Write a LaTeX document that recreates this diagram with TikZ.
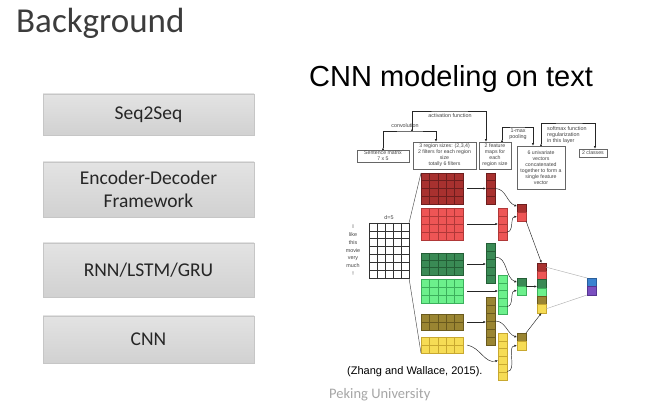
\documentclass[tikz,border=0pt]{standalone}
\usepackage{fontspec}
\setmainfont{Carlito}
\newfontfamily\arialf{Liberation Sans}
\usetikzlibrary{arrows.meta,calc}
\definecolor{dred}{HTML}{A8312F}\definecolor{dredl}{HTML}{6E1E1E}
\definecolor{lred}{HTML}{EE5555}\definecolor{lredl}{HTML}{B03838}
\definecolor{dgreen}{HTML}{3A8A55}\definecolor{dgreenl}{HTML}{245E36}
\definecolor{lgreen}{HTML}{6CF08C}\definecolor{lgreenl}{HTML}{3CB05C}
\definecolor{olive2}{HTML}{9A8532}\definecolor{olivel}{HTML}{6A5A1E}
\definecolor{yel}{HTML}{F6DC55}\definecolor{yell}{HTML}{C8A830}
\definecolor{blu}{HTML}{3B82D0}\definecolor{blul}{HTML}{2A5E9A}
\definecolor{pur}{HTML}{7A4FC0}\definecolor{purl}{HTML}{553590}
\definecolor{txt}{HTML}{262626}
\definecolor{lab}{HTML}{444444}
\newcommand\cblock[9]{%
  \node[draw=#9, fill=#8, line width=0.5pt, inner sep=0pt, outer sep=0pt,
        minimum width={(#4-#2)*1pt}, minimum height={(#5-#3)*1pt}]
        (#1) at ({(#2+#4)/2},{(#3+#5)/2}) {};
  \foreach \i in {0,...,#6}
    \draw[#9, line width=0.5pt] ($(#1.north west)!{\i/#6}!(#1.north east)$) -- ($(#1.south west)!{\i/#6}!(#1.south east)$);
  \foreach \j in {0,...,#7}
    \draw[#9, line width=0.5pt] ($(#1.north west)!{\j/#7}!(#1.south west)$) -- ($(#1.north east)!{\j/#7}!(#1.south east)$);
}
\tikzset{
  sidebox/.style={draw=gray!45, top color=gray!22, bottom color=gray!36, minimum width=211pt,
    inner sep=0pt, align=center, text=txt, font=\fontsize{19.5}{23}\selectfont},
  smallbox/.style={draw=gray!80!black, line width=0.4pt, fill=white, inner sep=0pt, align=center,
    text=lab, font=\arialf\fontsize{5.2}{5.9}\selectfont},
  smalllab/.style={text=lab, inner sep=0pt, align=center, font=\arialf\fontsize{5.4}{6.0}\selectfont},
  conn/.style={draw=gray!30!black, line width=0.45pt},
  arr/.style={conn, -{Latex[length=2.6pt,width=2.2pt]}},
  barr/.style={conn, {Latex[reversed,length=2.4pt,width=2pt]}-{Latex[length=2.6pt,width=2.2pt]}},
}
\begin{document}
\begin{tikzpicture}[x=1pt,y=-1pt]
\useasboundingbox (0,0) rectangle (649,419);
\fill[white] (0,0) rectangle (649,419);
% title
\node[anchor=base west, inner sep=0pt, text=txt!90, font=\fontsize{35}{40}\selectfont] (title) at (16,33) {Background};
% left boxes
\node[sidebox, minimum height=41pt] (b1) at (148.5,114.5) {Seq2Seq};
\node[sidebox, minimum height=55pt] (b2) at (148.5,189.5) {Encoder-Decoder\\Framework};
\node[sidebox, minimum height=54pt] (b3) at (148.5,270) {RNN/LSTM/GRU};
\node[sidebox, minimum height=47pt] (b4) at (148.5,339.5) {CNN};
% right title
\node[anchor=base west, inner sep=0pt, font=\arialf\fontsize{29}{33}\selectfont] (rtitle) at (309,87) {CNN modeling on text};
% top boxes
\node[smallbox, minimum width=52pt, minimum height=12pt] (sm) at (383,156) {Sentence matrix\\7 x 5};
\node[smallbox, minimum width=63pt, minimum height=27pt] (rs) at (444.5,155.5) {3 region sizes: (2,3,4)\\2 filters for each region\\size\\totally 6 filters};
\node[smallbox, minimum width=32pt, minimum height=27pt] (fmb) at (495,155.5) {2 feature\\maps for\\each\\region size};
\node[smallbox, minimum width=48pt, minimum height=43pt] (uv) at (541,167.5) {6 univariate\\vectors\\concatenated\\together to form a\\single feature\\vector};
\node[smallbox, minimum width=28pt, minimum height=8pt] (cl) at (593,153) {2 classes};
% top connectors
\coordinate (convtop) at (410,131);
\coordinate (actstart) at (412,131);
\coordinate (acttop) at (450,111);
\coordinate (pooltop) at (517,127);
\coordinate (softtop) at (570,123);
\draw[barr] (sm.north) |- (convtop) -| ([xshift=-8.5pt]rs.north);
\draw[barr] (actstart) |- (acttop) -| ([xshift=-9pt]fmb.north);
\draw[barr] ([xshift=7pt]fmb.north) |- (pooltop) -| ([xshift=-8pt]uv.north);
\draw[barr] (uv.north) |- (softtop) -| ([xshift=2pt]cl.north);
\node[smalllab] (lconv) at (405,126) {convolution};
\node[smalllab] (lact) at (450,116) {activation function};
\node[smalllab] (lpool) at (518,134) {1-max\\pooling};
\node[smalllab, align=left, anchor=north west] (lsoft) at (547,126) {softmax function\\regularization\\in this layer};
% sentence matrix
\cblock{s}{369}{223}{409}{278}{5}{7}{white}{gray!40!black}
\node[smalllab] (dlab) at (389,218) {d=5};
\foreach \w/\yy [count=\k] in {I/227,like/235,this/243,movie/251,very/259,much/266,!/274}
  \node[smalllab] (w\k) at (353,\yy) {\w};
% filters
\cblock{f1}{421}{173}{463}{204}{5}{4}{dred}{dredl}
\cblock{f2}{421}{208}{463}{240}{5}{4}{lred}{lredl}
\cblock{f3}{421}{253}{463}{275}{5}{3}{dgreen}{dgreenl}
\cblock{f4}{421}{279}{463}{303}{5}{3}{lgreen}{lgreenl}
\cblock{f5}{421}{314}{463}{330}{5}{2}{olive2}{olivel}
\cblock{f6}{421}{337}{463}{353}{5}{2}{yel}{yell}
\draw[conn, draw=gray!60!black] (s.north east) -- (f1.north west);
\draw[conn, draw=gray!60!black] (s.south east) -- (f6.south west);
% feature maps
\cblock{fm1}{486}{173}{495}{204}{1}{4}{dred}{dredl}
\cblock{fm2}{498}{208}{507}{240}{1}{4}{lred}{lredl}
\cblock{fm3}{486}{243}{495}{283}{1}{5}{dgreen}{dgreenl}
\cblock{fm4}{498}{275}{507}{314}{1}{5}{lgreen}{lgreenl}
\cblock{fm5}{486}{297}{495}{345}{1}{6}{olive2}{olivel}
\cblock{fm6}{498}{333}{507}{380}{1}{6}{yel}{yell}
\draw[arr] ($(f1.east)+(4pt,0)$) -- (fm1.west);
\draw[arr] ($(f2.east)+(4pt,0)$) -- (fm2.west);
\draw[arr] ($(f3.east)+(4pt,0)$) -- (f3.east -| fm3.west);
\draw[arr] ($(f4.east)+(4pt,0)$) -- (f4.east -| fm4.west);
\draw[arr] ($(f5.east)+(4pt,0)$) -- (f5.east -| fm5.west);
\draw[arr] ($(f6.east)+(4pt,0)$) to[out=-10,in=195] ([yshift=-4pt]fm6.west);
% pooled
\cblock{p1a}{517}{204}{526}{212.5}{1}{1}{dred}{dredl}
\cblock{p1b}{517}{212.5}{526}{221}{1}{1}{lred}{lredl}
\cblock{p2a}{517}{278}{526}{286.5}{1}{1}{dgreen}{dgreenl}
\cblock{p2b}{517}{286.5}{526}{295}{1}{1}{lgreen}{lgreenl}
\cblock{p3a}{517}{333}{526}{341.5}{1}{1}{olive2}{olivel}
\cblock{p3b}{517}{341.5}{526}{350}{1}{1}{yel}{yell}
\draw[arr] (fm1.east) to[out=0,in=160] ([yshift=2pt]p1a.west);
\draw[arr] ([yshift=-8pt]fm2.east) to[out=0,in=180] (p1b.west);
\draw[arr] ([yshift=6pt]fm3.east) to[out=0,in=160] (p2a.west);
\draw[arr] ([yshift=-12pt]fm4.east) to[out=0,in=180] (p2b.west);
\draw[arr] (fm5.east) to[out=0,in=160] (p3a.west);
\draw[arr] ([yshift=-15pt]fm6.east) to[out=0,in=180] (p3b.west);
% concatenated
\cblock{c1}{537}{263}{546}{271.3}{1}{1}{dred}{dredl}
\cblock{c2}{537}{271.3}{546}{279.7}{1}{1}{lred}{lredl}
\cblock{c3}{537}{279.7}{546}{288}{1}{1}{dgreen}{dgreenl}
\cblock{c4}{537}{288}{546}{296.3}{1}{1}{lgreen}{lgreenl}
\cblock{c5}{537}{296.3}{546}{304.7}{1}{1}{olive2}{olivel}
\cblock{c6}{537}{304.7}{546}{313}{1}{1}{yel}{yell}
\draw[arr] (p1b.south east) -- (c1.north);
\draw[arr] (p2a.south east) -- (p2a.south east -| c3.west);
\draw[arr] (p3a.north east) -- (c6.south);
% output
\cblock{o1}{587}{278}{596}{286.5}{1}{1}{blu}{blul}
\cblock{o2}{587}{286.5}{596}{295}{1}{1}{pur}{purl}
\draw[conn, draw=gray!60] (c1.east) -- (o1.north west);
\draw[conn, draw=gray!60] (c6.east) -- (o2.south west);
% citation and footer
\node[anchor=west, inner sep=0pt, font=\arialf\fontsize{11}{13}\selectfont] (cite) at (347,372) {(Zhang and Wallace, 2015).};
\node[anchor=west, inner sep=0pt, text=gray!70, font=\fontsize{14.5}{17}\selectfont] (pku) at (329,395) {Peking University};
\end{tikzpicture}
\end{document}
